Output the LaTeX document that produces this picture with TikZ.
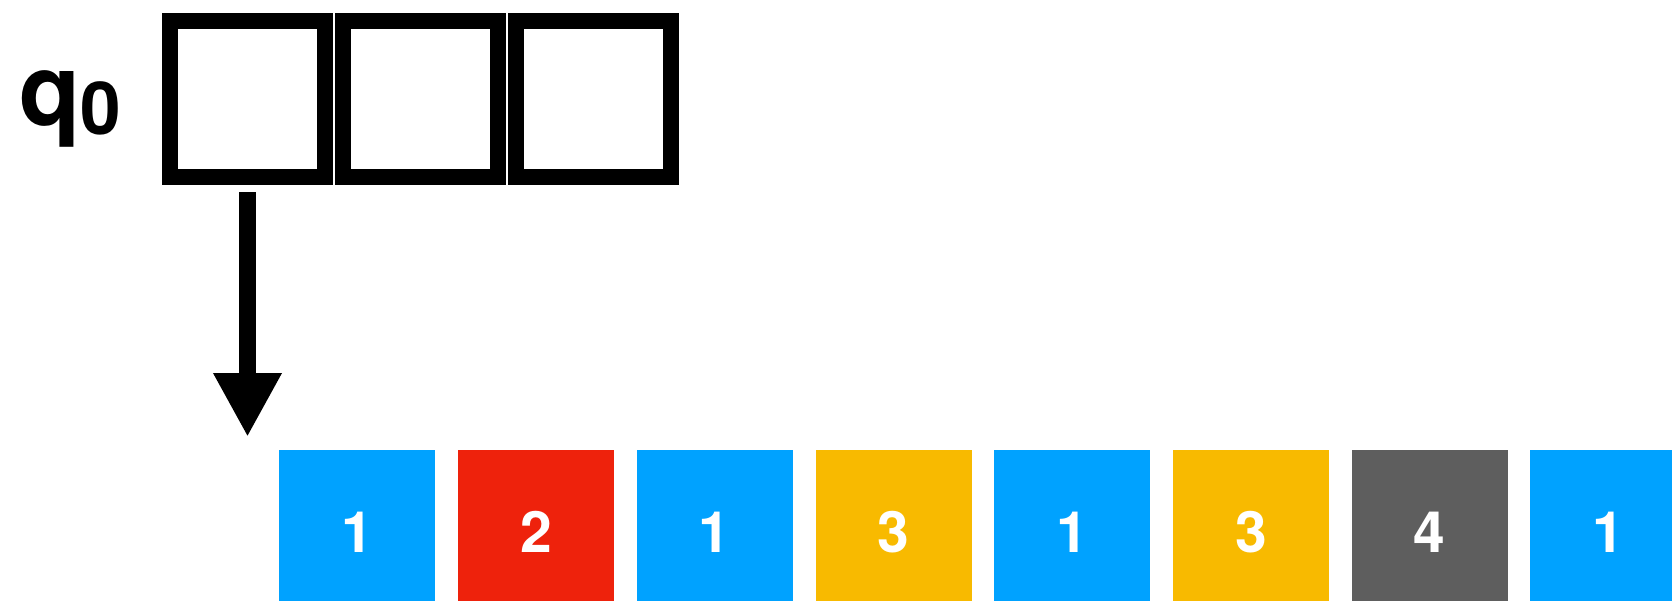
\documentclass[tikz,border=0pt]{standalone}
\usepackage{fontspec}
\setmainfont{TeX Gyre Heros}
\usetikzlibrary{arrows.meta}
\definecolor{KeyBlue}{RGB}{0,162,255}
\definecolor{KeyRed}{RGB}{238,34,12}
\definecolor{KeyYellow}{RGB}{248,186,0}
\definecolor{KeyGray}{RGB}{94,94,94}
\begin{document}
\begin{tikzpicture}[x=1pt,y=-1pt,
    reg/.style={draw=black,line width=16pt,outer sep=0pt,inner sep=0pt,
      minimum width=155pt,minimum height=156pt},
    cell/.style={inner sep=0pt,outer sep=0pt,minimum size=156pt,text=white,
      font=\fontsize{57}{57}\bfseries},
    ptr/.style={line width=17pt,-{Triangle[length=64pt,width=64pt]}}]
      \clip (0,0) rectangle (1672,601);
      % register and its label
      \node[anchor=base west,inner sep=0pt,font=\fontsize{100}{100}\bfseries] (qlab)
        at (19,126) {q\raisebox{-9pt}{\fontsize{73}{73}\selectfont 0}};
      \node[reg] (reg1) at (247.5,99) {};
      \node[reg] (reg2) at (420.5,99) {};
      \node[reg] (reg3) at (593.5,99) {};
      % input cells
      \foreach \i/\v/\c in {0/1/KeyBlue,1/2/KeyRed,2/1/KeyBlue,3/3/KeyYellow,
          4/1/KeyBlue,5/3/KeyYellow,6/4/KeyGray,7/1/KeyBlue}
        \node[cell,fill=\c] (c\i) at ({357.4+178.7*\i},528)
          {\raisebox{-24.5pt}[0pt][0pt]{\v}};
      \coordinate (tip) at (247.5,437);
      \draw[ptr] ([yshift=-15.5pt]reg1.south) -- (tip);
    \end{tikzpicture}
\end{document}
